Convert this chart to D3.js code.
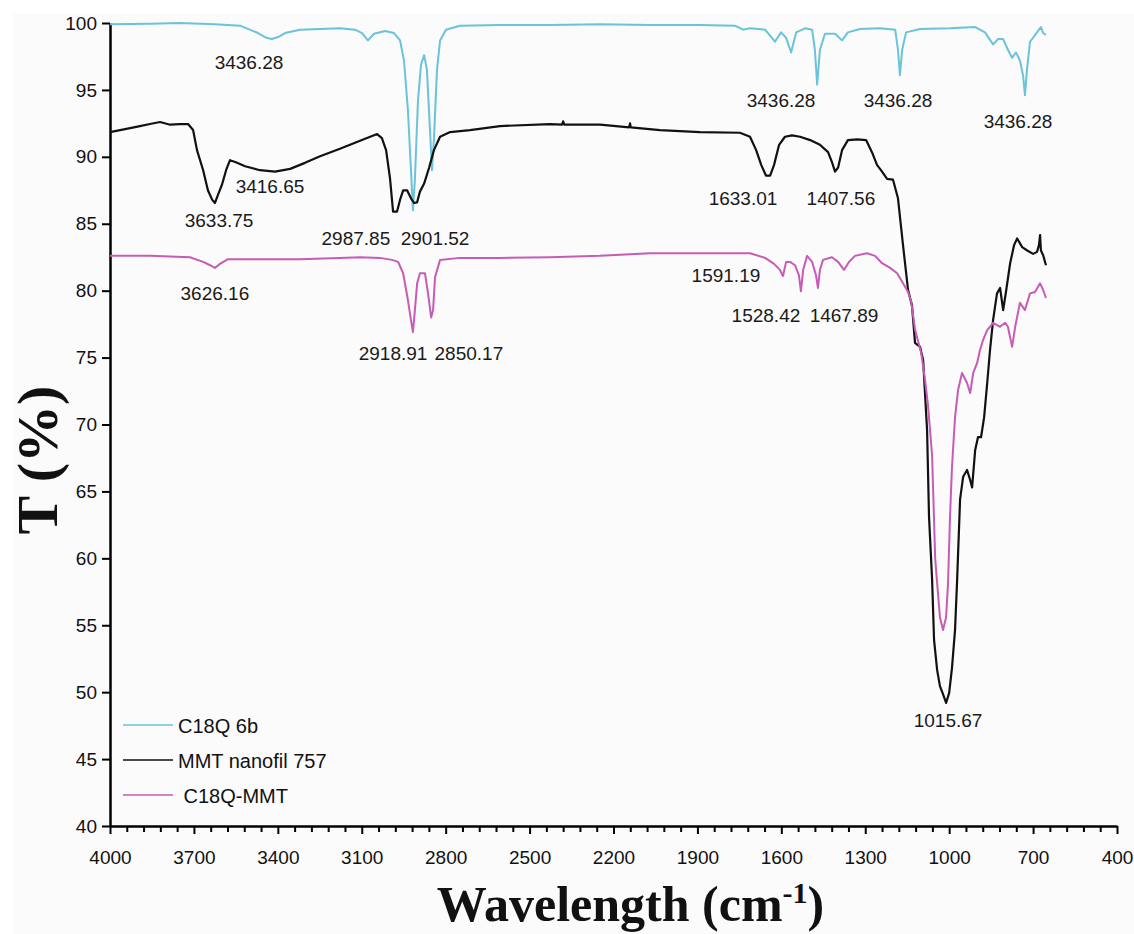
<!DOCTYPE html>
<html>
<head>
<meta charset="utf-8">
<script src="https://cdn.jsdelivr.net/npm/d3@7"></script>
<style>
  body { margin: 0; background: #fff; }
  svg { display: block; }
</style>
</head>
<body>
<div id="chart"></div>
<script>
// wavenumber (cm-1), transmittance (%)
const c18q = [
  [4000, 99.9], [3857, 99.95], [3750, 100], [3625, 99.9], [3535, 99.8], [3471, 99.25],
  [3442, 98.9], [3421, 98.8], [3399, 98.95], [3374, 99.25], [3321, 99.5], [3249, 99.55],
  [3178, 99.6], [3124, 99.5], [3099, 99.25], [3078, 98.7], [3056, 99.2], [3017, 99.4],
  [2985, 99.25], [2963, 98.7], [2949, 97.2], [2935, 93.5], [2924, 89.0], [2917, 86.0],
  [2910, 88.3], [2899, 94.2], [2888, 96.9], [2877, 97.6], [2867, 96.5], [2856, 92.0],
  [2849, 89.0], [2842, 91.3], [2831, 96.5], [2820, 98.7], [2799, 99.5], [2749, 99.8],
  [2606, 99.85], [2427, 99.85], [2248, 99.9], [2069, 99.85], [1891, 99.85], [1766, 99.8],
  [1737, 99.5], [1712, 99.6], [1658, 99.5], [1623, 98.6], [1601, 99.3], [1583, 98.9],
  [1565, 97.8], [1547, 99.3], [1515, 99.6], [1490, 99.5], [1480, 98.0], [1472, 95.4],
  [1462, 98.0], [1444, 99.2], [1408, 99.2], [1383, 98.7], [1362, 99.3], [1319, 99.55],
  [1247, 99.6], [1193, 99.5], [1183, 98.0], [1176, 96.1], [1168, 98.0], [1154, 99.3],
  [1104, 99.55], [997, 99.6], [907, 99.7], [872, 99.3], [843, 98.4], [825, 98.8],
  [807, 98.8], [790, 98.0], [775, 97.4], [761, 97.8], [747, 97.2], [736, 96.1],
  [729, 94.6], [722, 96.5], [711, 98.6], [693, 99.1], [679, 99.5], [672, 99.7],
  [664, 99.25], [654, 99.1]
];

const mmt = [
  [4000, 91.85], [3964, 92.0], [3928, 92.15], [3893, 92.3], [3857, 92.45], [3821, 92.6],
  [3785, 92.4], [3750, 92.45], [3721, 92.45], [3703, 92.0], [3689, 90.5], [3667, 89.0],
  [3650, 87.5], [3635, 86.8], [3625, 86.55], [3614, 87.15], [3600, 87.9], [3585, 89.0],
  [3571, 89.75], [3550, 89.6], [3517, 89.3], [3464, 89.0], [3410, 88.9], [3356, 89.1],
  [3303, 89.55], [3249, 90.05], [3178, 90.6], [3106, 91.2], [3045, 91.7], [3028, 91.4],
  [3013, 90.5], [2999, 88.4], [2988, 85.9], [2974, 85.9], [2963, 86.8], [2952, 87.5],
  [2938, 87.5], [2924, 86.9], [2913, 86.55], [2902, 86.6], [2892, 87.4], [2877, 88.0],
  [2859, 89.2], [2842, 90.5], [2820, 91.5], [2784, 91.85], [2713, 92.0], [2606, 92.3],
  [2427, 92.45], [2384, 92.4], [2380, 92.65], [2376, 92.4], [2248, 92.4], [2144, 92.2],
  [2141, 92.5], [2138, 92.2], [2034, 92.0], [1891, 91.85], [1748, 91.8], [1712, 91.5],
  [1690, 90.5], [1672, 89.4], [1655, 88.6], [1640, 88.6], [1626, 89.4], [1608, 90.9],
  [1587, 91.5], [1562, 91.6], [1533, 91.5], [1497, 91.25], [1462, 90.9], [1433, 90.35],
  [1419, 89.6], [1408, 88.9], [1397, 89.2], [1383, 90.5], [1362, 91.25], [1329, 91.3],
  [1297, 91.25], [1276, 90.35], [1258, 89.4], [1240, 88.9], [1222, 88.35], [1201, 88.3],
  [1183, 86.9], [1165, 83.4], [1147, 80.05], [1133, 78.9], [1122, 76.1], [1104, 75.8],
  [1093, 74.8], [1079, 69.6], [1072, 63.1], [1061, 58.4], [1054, 53.9], [1043, 51.65],
  [1033, 50.45], [1022, 49.85], [1011, 49.2], [1000, 49.95], [990, 51.8], [979, 54.65],
  [972, 58.15], [961, 64.4], [950, 66.1], [936, 66.6], [925, 65.85], [918, 65.3],
  [907, 68.1], [897, 69.05], [886, 69.05], [875, 70.55], [864, 73.1], [854, 75.55],
  [843, 77.8], [829, 79.8], [818, 80.2], [807, 78.55], [797, 79.9], [782, 82.05],
  [768, 83.4], [757, 83.9], [739, 83.25], [721, 83.0], [700, 82.75], [686, 82.9],
  [679, 83.4], [675, 84.15], [672, 83.0], [664, 82.65], [654, 81.9]
];

const c18qMmt = [
  [4000, 82.6], [3857, 82.6], [3714, 82.5], [3667, 82.15], [3642, 81.9], [3625, 81.7],
  [3607, 82.0], [3578, 82.35], [3464, 82.35], [3321, 82.35], [3178, 82.45], [3106, 82.5],
  [3035, 82.45], [2992, 82.3], [2970, 82.15], [2952, 81.3], [2935, 79.3], [2924, 77.8],
  [2917, 76.9], [2910, 78.55], [2902, 80.55], [2892, 81.3], [2874, 81.3], [2863, 79.8],
  [2852, 78.0], [2845, 78.55], [2838, 81.0], [2820, 82.3], [2749, 82.45], [2606, 82.45],
  [2427, 82.5], [2248, 82.6], [2069, 82.8], [1891, 82.8], [1712, 82.8], [1658, 82.45],
  [1626, 82.0], [1605, 81.55], [1594, 81.1], [1583, 82.15], [1569, 82.15], [1551, 81.9],
  [1537, 81.15], [1530, 79.95], [1522, 81.55], [1508, 82.6], [1490, 82.15], [1476, 81.15],
  [1469, 80.2], [1462, 81.55], [1451, 82.3], [1419, 82.5], [1397, 82.15], [1376, 81.55],
  [1358, 82.15], [1337, 82.6], [1294, 82.8], [1265, 82.6], [1240, 82.05], [1211, 81.7],
  [1186, 81.3], [1165, 80.55], [1147, 79.9], [1136, 79.2], [1122, 77.1], [1100, 75.35],
  [1086, 73.3], [1076, 71.5], [1061, 67.7], [1050, 60.0], [1043, 58.15], [1033, 55.6],
  [1022, 54.65], [1011, 55.6], [1004, 58.15], [997, 63.1], [990, 66.8], [979, 70.55],
  [968, 72.6], [954, 73.85], [936, 73.1], [925, 72.35], [914, 73.85], [900, 74.6],
  [890, 75.55], [879, 76.3], [864, 77.05], [843, 77.6], [818, 77.3], [800, 77.6],
  [790, 77.3], [775, 75.8], [764, 77.3], [747, 79.1], [729, 78.55], [711, 79.8],
  [693, 79.9], [675, 80.55], [664, 80.05], [654, 79.45]
];

const seriesNames = ["C18Q 6b", "MMT nanofil 757", " C18Q-MMT"];
const seriesColors = ["#6ac3da", "#111111", "#c65cb6"];

// peak labels: text, wavenumber and T where the label sits
const peakLabels = [
  ["3436.28", 3503, 96.56], ["3436.28", 1601, 93.72], ["3436.28", 1183, 93.72],
  ["3436.28", 754, 92.15], ["3416.65", 3428, 87.3], ["3633.75", 3610, 84.76],
  ["2987.85", 3121, 83.41], ["2901.52", 2838, 83.41], ["1633.01", 1737, 86.4],
  ["1407.56", 1387, 86.4], ["3626.16", 3625, 79.3], ["2918.91", 2988, 74.8],
  ["2850.17", 2717, 74.8], ["1591.19", 1798, 80.65], ["1528.42", 1655, 77.66],
  ["1467.89", 1376, 77.66], ["1015.67", 1004, 47.4]
];

const xMajorTicks = [4000, 3700, 3400, 3100, 2800, 2500, 2200, 1900, 1600, 1300, 1000, 700, 400];
const yTicks = [40, 45, 50, 55, 60, 65, 70, 75, 80, 85, 90, 95, 100];

const width = 1134;
const height = 934;
const marginLeft = 110;
const marginRight = 17;
const marginTop = 23;
const marginBottom = 108;

const svg = d3.select("#chart")
  .append("svg")
  .attr("width", width)
  .attr("height", height);

// faint paper tone of the scanned figure
svg.append("rect")
  .attr("x", 13).attr("y", 13)
  .attr("width", width - 13).attr("height", height - 13)
  .attr("fill", "#fbfbfb");

const x = d3.scaleLinear()
  .domain([4000, 400])
  .range([marginLeft, width - marginRight]);

const y = d3.scaleLinear()
  .domain([40, 100])
  .range([height - marginBottom, marginTop]);

const tickFont = "'Liberation Sans', Arial, sans-serif";

// minor x ticks every 60 cm-1
const xMinor = d3.range(4000, 399, -60).filter(v => !xMajorTicks.includes(v));

svg.append("g")
  .attr("transform", `translate(0,${y(40)})`)
  .call(d3.axisBottom(x).tickValues(xMinor).tickSize(6).tickFormat(""))
  .call(g => g.select(".domain").remove())
  .call(g => g.selectAll(".tick line").attr("stroke", "#000").attr("stroke-width", 2));

svg.append("g")
  .attr("transform", `translate(0,${y(40)})`)
  .call(d3.axisBottom(x).tickValues(xMajorTicks).tickSize(8).tickSizeOuter(0).tickPadding(17).tickFormat(d3.format("d")))
  .call(g => g.select(".domain").attr("stroke", "#000").attr("stroke-width", 2.5))
  .call(g => g.selectAll(".tick line").attr("stroke", "#000").attr("stroke-width", 2))
  .call(g => g.selectAll("text")
    .style("font-family", tickFont)
    .style("font-size", "19px")
    .attr("fill", "#111"));

svg.append("g")
  .attr("transform", `translate(${marginLeft},0)`)
  .call(d3.axisLeft(y).tickValues(yTicks).tickSize(8).tickSizeOuter(0).tickPadding(5))
  .call(g => g.select(".domain").attr("stroke", "#000").attr("stroke-width", 2.5))
  .call(g => g.selectAll(".tick line").attr("stroke", "#000").attr("stroke-width", 2))
  .call(g => g.selectAll("text")
    .style("font-family", tickFont)
    .style("font-size", "19px")
    .attr("fill", "#111"));

// spectra
const line = d3.line()
  .x(d => x(d[0]))
  .y(d => y(d[1]));

[c18q, mmt, c18qMmt].forEach((data, i) => {
  svg.append("path")
    .datum(data)
    .attr("fill", "none")
    .attr("stroke", seriesColors[i])
    .attr("stroke-width", i === 1 ? 2.2 : 2)
    .attr("stroke-linejoin", "round")
    .attr("d", line);
});

// peak labels
svg.append("g")
  .selectAll("text")
  .data(peakLabels)
  .join("text")
  .attr("x", d => x(d[1]))
  .attr("y", d => y(d[2]))
  .attr("text-anchor", "middle")
  .style("font-family", tickFont)
  .style("font-size", "19px")
  .attr("fill", "#1a1a1a")
  .text(d => d[0]);

// legend
const legend = svg.append("g")
  .attr("transform", `translate(123,725)`);

seriesNames.forEach((name, i) => {
  legend.append("line")
    .attr("x1", 0).attr("x2", 50)
    .attr("y1", i * 35).attr("y2", i * 35)
    .attr("stroke", seriesColors[i])
    .attr("stroke-width", 1.6);
  legend.append("text")
    .attr("x", 55)
    .attr("y", i * 35 + 8)
    .style("font-family", tickFont)
    .style("font-size", "20px")
    .style("white-space", "pre")
    .attr("fill", "#111")
    .text(name);
});

// axis titles
const titleFont = "'Liberation Serif', 'Times New Roman', serif";

svg.append("text")
  .attr("transform", `translate(57,460) rotate(-90)`)
  .attr("text-anchor", "middle")
  .style("font-family", titleFont)
  .style("font-size", "58px")
  .style("font-weight", "bold")
  .attr("fill", "#111")
  .text("T (%)");

const xTitle = svg.append("text")
  .attr("x", (marginLeft + width - marginRight) / 2 + 17)
  .attr("y", 921)
  .attr("text-anchor", "middle")
  .style("font-family", titleFont)
  .style("font-size", "50px")
  .style("font-weight", "bold")
  .attr("fill", "#111");

xTitle.append("tspan").text("Wavelength (cm");
xTitle.append("tspan").attr("dy", -18).style("font-size", "30px").text("-1");
xTitle.append("tspan").attr("dy", 18).text(")");
</script>
</body>
</html>
